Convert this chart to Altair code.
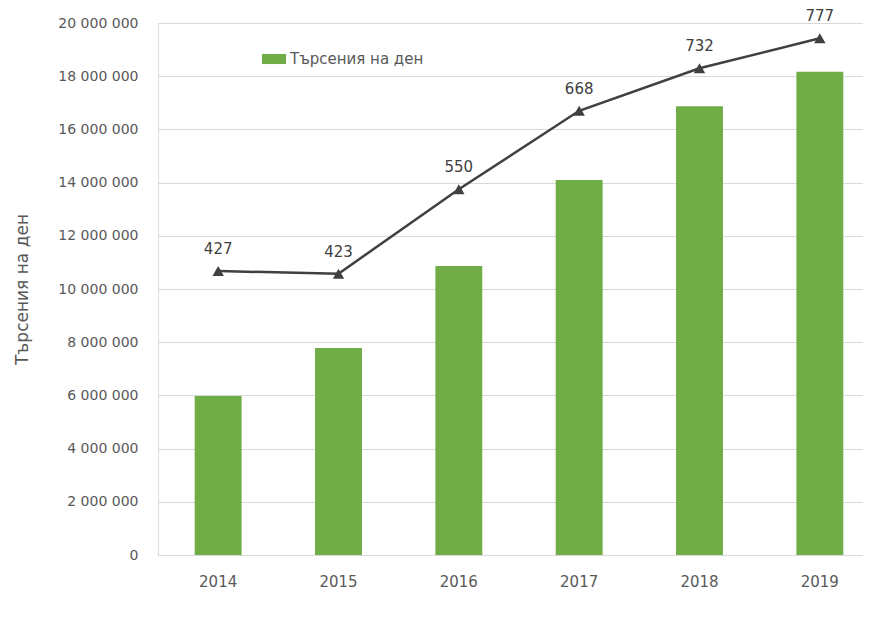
import altair as alt
import pandas as pd

years = ["2014", "2015", "2016", "2017", "2018", "2019"]
searches = [5980000, 7780000, 10860000, 14100000, 16870000, 18170000]
line_vals = [427, 423, 550, 668, 732, 777]
series_name = "Търсения на ден"

df = pd.DataFrame({"year": years, "searches": searches, "val": line_vals, "series": [series_name] * 6})

FONT = "DejaVu Sans"
GRAY = "#595959"

x_enc = alt.X("year:N", title=None, sort=years,
              scale=alt.Scale(paddingInner=0.61, paddingOuter=0.305, range=[0, 722]),
              axis=alt.Axis(labelAngle=0, ticks=False, domain=True, domainColor="#D9D9D9",
                            labelPadding=19, labelFontSize=15, labelColor=GRAY, labelFont=FONT))

bars = alt.Chart(df).mark_bar(color="#70AD47").encode(
    x=x_enc,
    y=alt.Y("searches:Q", title=series_name,
            scale=alt.Scale(domain=[0, 20000000], nice=False),
            axis=alt.Axis(values=list(range(0, 20000001, 2000000)),
                          labelExpr="replace(format(datum.value, ','), /,/g, ' ')",
                          ticks=False, domain=False, gridColor="#D9D9D9", labelPadding=20,
                          labelFontSize=14, labelColor=GRAY, labelFont=FONT,
                          titleFontSize=17, titleColor=GRAY, titleFont=FONT, titleFontWeight="normal",
                          titlePadding=26)),
    color=alt.Color("series:N", scale=alt.Scale(range=["#70AD47"]),
                    legend=alt.Legend(orient="none", legendX=104, legendY=24, title=None,
                                      symbolType="M-1,-0.42H1V0.42H-1Z", symbolSize=576,
                                      symbolStrokeWidth=0, symbolOpacity=1,
                                      labelFontSize=15, labelColor=GRAY, labelFont=FONT, labelOffset=4)),
)

y2 = alt.Y("val:Q", scale=alt.Scale(domain=[0, 800], nice=False), axis=None)

line = alt.Chart(df).mark_line(color="#404040", strokeWidth=2.5).encode(x=alt.X("year:N", sort=years), y=y2)
pts = alt.Chart(df).mark_point(shape="triangle-up", filled=True, color="#404040", size=130, opacity=1).encode(
    x=alt.X("year:N", sort=years), y=y2)
labels = alt.Chart(df).mark_text(dy=-22, fontSize=15, color="#404040", font=FONT).encode(
    x=alt.X("year:N", sort=years), y=y2, text="val:Q")

chart = alt.layer(bars, line, pts, labels).resolve_scale(y="independent").properties(
    width=705, height=532, padding={"left": 150, "top": 15, "right": 0, "bottom": 50},
    autosize=alt.AutoSizeParams(type="none"),
).configure_view(stroke=None).configure(font=FONT)

chart.save("out.html", embed_options={"renderer": "svg", "actions": False})
